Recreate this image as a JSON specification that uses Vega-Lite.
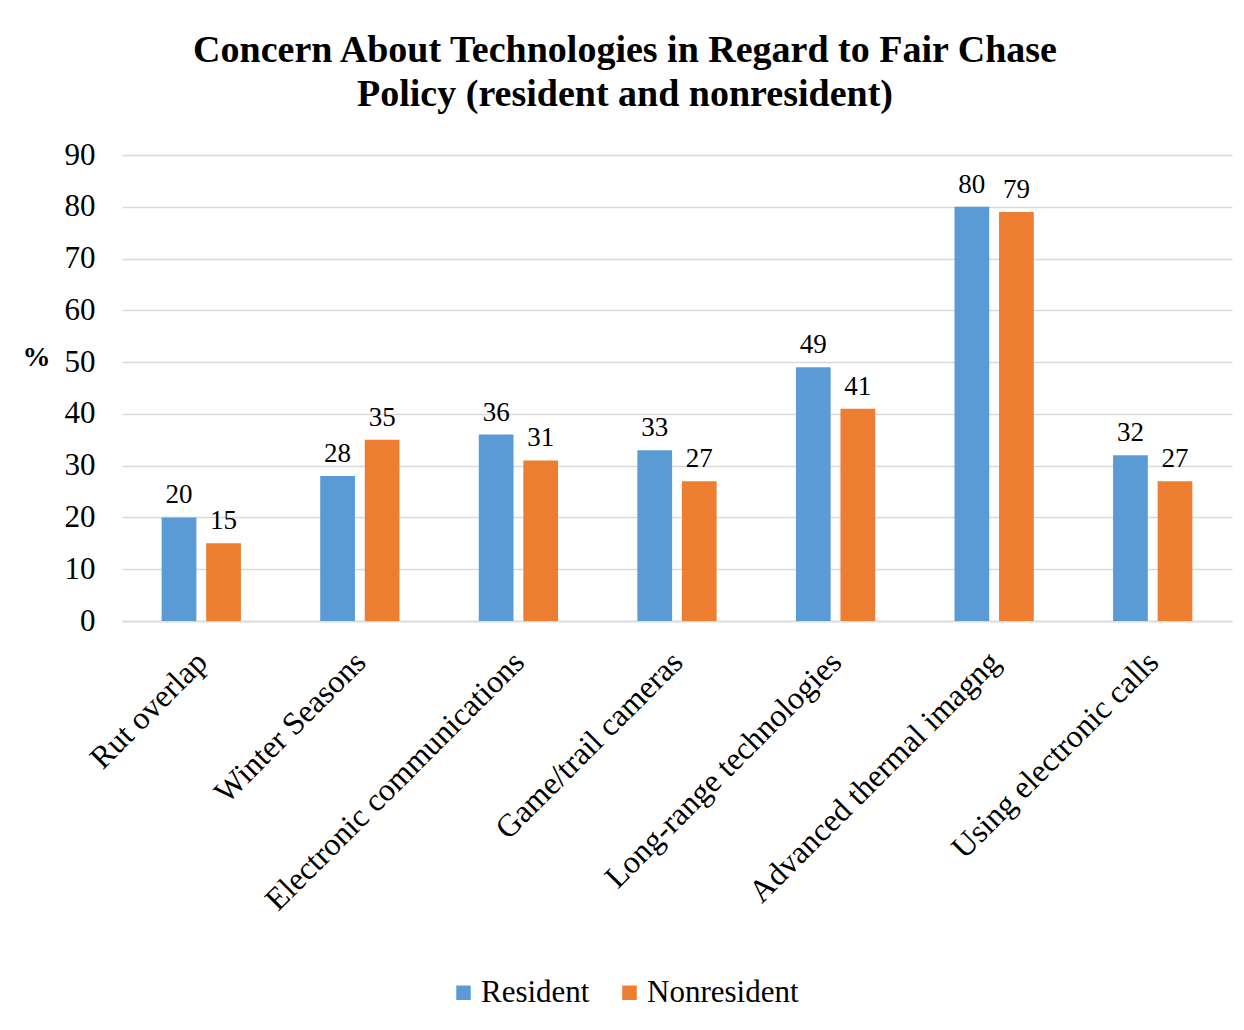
{
  "$schema": "https://vega.github.io/schema/vega-lite/v6.json",
  "autosize": {"type": "none"},
  "width": 1110,
  "height": 466,
  "padding": {"left": 122, "top": 155, "right": 12, "bottom": 409},
  "background": "white",
  "config": {
    "font": "Liberation Serif",
    "view": {"stroke": null},
    "axis": {"labelFont": "Liberation Serif", "titleFont": "Liberation Serif"},
    "legend": {"labelFont": "Liberation Serif"},
    "text": {"font": "Liberation Serif"}
  },
  "title": {
    "text": ["Concern About Technologies in Regard to Fair Chase", "Policy (resident and nonresident)"],
    "font": "Liberation Serif",
    "fontSize": 38,
    "fontWeight": "bold",
    "color": "black",
    "anchor": "middle",
    "dx": -52,
    "offset": 25,
    "lineHeight": 44
  },
  "data": {
    "values": [
      {"category": "Rut overlap", "group": "Resident", "value": 20},
      {"category": "Rut overlap", "group": "Nonresident", "value": 15},
      {"category": "Winter Seasons", "group": "Resident", "value": 28},
      {"category": "Winter Seasons", "group": "Nonresident", "value": 35},
      {"category": "Electronic communications", "group": "Resident", "value": 36},
      {"category": "Electronic communications", "group": "Nonresident", "value": 31},
      {"category": "Game/trail cameras", "group": "Resident", "value": 33},
      {"category": "Game/trail cameras", "group": "Nonresident", "value": 27},
      {"category": "Long-range technologies", "group": "Resident", "value": 49},
      {"category": "Long-range technologies", "group": "Nonresident", "value": 41},
      {"category": "Advanced thermal imagng", "group": "Resident", "value": 80},
      {"category": "Advanced thermal imagng", "group": "Nonresident", "value": 79},
      {"category": "Using electronic calls", "group": "Resident", "value": 32},
      {"category": "Using electronic calls", "group": "Nonresident", "value": 27}
    ]
  },
  "encoding": {
    "x": {
      "field": "category",
      "type": "nominal",
      "sort": null,
      "scale": {"paddingInner": 0.5, "paddingOuter": 0.25},
      "axis": {
        "title": null,
        "labelAngle": -45,
        "labelFont": "Liberation Serif",
        "labelFontSize": 32,
        "labelColor": "black",
        "labelPadding": 25,
        "labelOffset": -10,
        "ticks": false,
        "domain": true,
        "domainColor": "#d9d9d9",
        "domainWidth": 1.5,
        "labelLimit": 0
      }
    },
    "xOffset": {
      "field": "group",
      "type": "nominal",
      "sort": ["Resident", "Nonresident"],
      "scale": {"paddingInner": 0.22, "paddingOuter": 0}
    },
    "y": {
      "field": "value",
      "type": "quantitative",
      "scale": {"domain": [0, 90]},
      "axis": {
        "values": [0, 10, 20, 30, 40, 50, 60, 70, 80, 90],
        "title": "%",
        "titleAngle": 0,
        "titleFont": "Liberation Serif",
        "titleFontSize": 28,
        "titleFontWeight": "bold",
        "titleColor": "black",
        "titleX": -86,
        "titleY": 202,
        "titleAlign": "center",
        "titleBaseline": "middle",
        "labelFont": "Liberation Serif",
        "labelFontSize": 31,
        "labelColor": "black",
        "labelPadding": 27,
        "ticks": false,
        "domain": false,
        "grid": true,
        "gridColor": "#d9d9d9",
        "gridWidth": 1.5
      }
    }
  },
  "layer": [
    {
      "mark": {"type": "bar"},
      "encoding": {
        "color": {
          "field": "group",
          "type": "nominal",
          "sort": ["Resident", "Nonresident"],
          "scale": {"domain": ["Resident", "Nonresident"], "range": ["#5B9BD5", "#ED7D31"]},
          "legend": {
            "title": null,
            "orient": "none",
            "direction": "horizontal",
            "legendX": 326,
            "legendY": 822,
            "symbolType": "square",
            "symbolSize": 210,
            "symbolStrokeWidth": 0,
            "labelFont": "Liberation Serif",
            "labelFontSize": 31,
            "labelColor": "black",
            "labelOffset": 2,
            "columnPadding": 24
          }
        }
      }
    },
    {
      "mark": {"type": "text", "baseline": "bottom", "dy": -8, "fontSize": 27, "font": "Liberation Serif", "color": "black"},
      "encoding": {
        "text": {"field": "value", "type": "quantitative"}
      }
    }
  ]
}
